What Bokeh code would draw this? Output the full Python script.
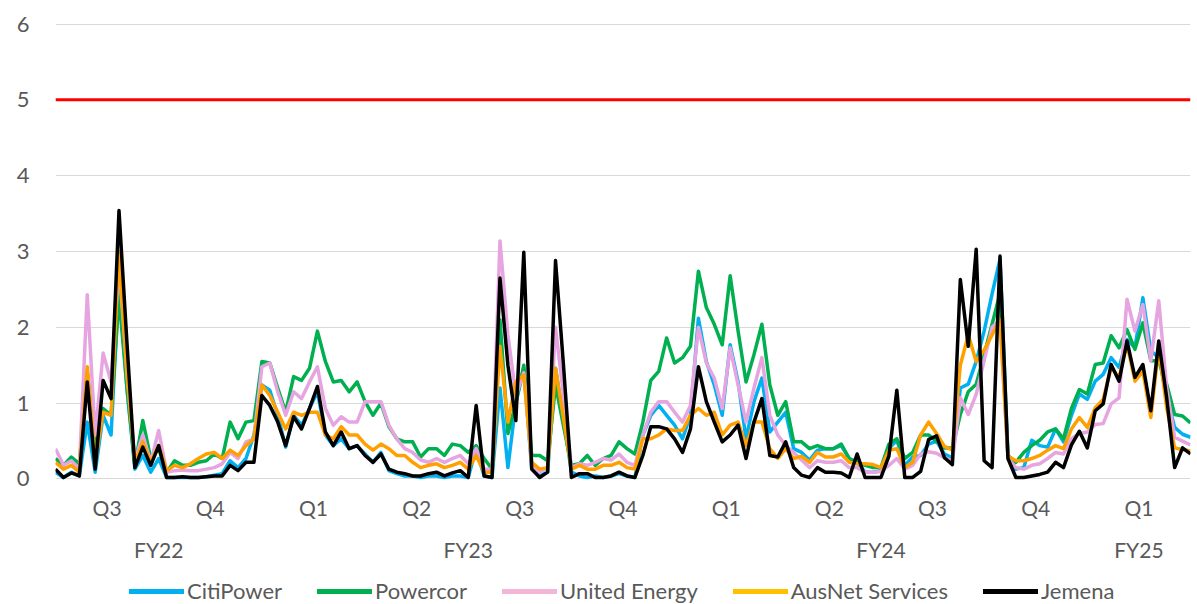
import numpy as np
from bokeh.plotting import figure
from bokeh.layouts import column
from bokeh.models import (Range1d, LinearAxis, FixedTicker, Span, Legend, LegendItem,
                          CustomJSTickFormatter, ColumnDataSource)
from bokeh.embed import file_html
from bokeh.resources import INLINE

# ---------------- data (weekly, Jan 2022 .. Sep 2024) ----------------
weeks = list(range(144))

jemena = [0.13, 0.02, 0.08, 0.04, 1.28, 0.13, 1.30, 1.06, 3.54, 1.80,
          0.15, 0.42, 0.18, 0.44, 0.02, 0.02, 0.03, 0.02, 0.02, 0.03,
          0.04, 0.04, 0.18, 0.11, 0.22, 0.22, 1.10, 0.97, 0.75, 0.44,
          0.82, 0.66, 0.93, 1.22, 0.62, 0.44, 0.62, 0.40, 0.44, 0.31,
          0.22, 0.33, 0.13, 0.09, 0.07, 0.04, 0.04, 0.07, 0.09, 0.04,
          0.08, 0.11, 0.02, 0.97, 0.04, 0.02, 2.65, 1.50, 0.77, 2.99,
          0.13, 0.02, 0.09, 2.88, 1.50, 0.02, 0.07, 0.07, 0.02, 0.02,
          0.04, 0.09, 0.04, 0.02, 0.31, 0.69, 0.69, 0.66, 0.53, 0.35,
          0.66, 1.48, 1.02, 0.75, 0.49, 0.58, 0.71, 0.27, 0.75, 1.06,
          0.31, 0.29, 0.49, 0.15, 0.05, 0.02, 0.15, 0.09, 0.09, 0.08,
          0.02, 0.33, 0.02, 0.02, 0.02, 0.30, 1.17, 0.02, 0.02, 0.10,
          0.52, 0.57, 0.28, 0.19, 2.63, 1.75, 3.03, 0.24, 0.15, 2.94,
          0.27, 0.02, 0.02, 0.04, 0.06, 0.09, 0.22, 0.15, 0.45, 0.63,
          0.41, 0.90, 0.99, 1.51, 1.29, 1.82, 1.34, 1.51, 0.90, 1.82,
          1.07, 0.15, 0.41, 0.33]

powercor = [0.27, 0.18, 0.29, 0.20, 1.42, 0.40, 0.93, 0.84, 2.40, 1.20,
            0.18, 0.77, 0.27, 0.40, 0.09, 0.24, 0.18, 0.18, 0.22, 0.24,
            0.33, 0.27, 0.75, 0.53, 0.75, 0.77, 1.55, 1.53, 1.20, 0.88,
            1.35, 1.30, 1.46, 1.95, 1.55, 1.28, 1.30, 1.15, 1.28, 1.02,
            0.84, 1.00, 0.69, 0.53, 0.49, 0.49, 0.29, 0.40, 0.40, 0.31,
            0.46, 0.44, 0.35, 0.44, 0.27, 0.13, 2.10, 0.60, 1.00, 1.50,
            0.31, 0.31, 0.24, 1.24, 0.70, 0.18, 0.20, 0.31, 0.18, 0.27,
            0.31, 0.49, 0.40, 0.33, 0.75, 1.30, 1.42, 1.86, 1.53, 1.60,
            1.75, 2.74, 2.26, 2.04, 1.77, 2.68, 1.95, 1.28, 1.64, 2.04,
            1.24, 0.84, 1.02, 0.49, 0.49, 0.40, 0.44, 0.40, 0.40, 0.46,
            0.27, 0.22, 0.18, 0.15, 0.15, 0.46, 0.53, 0.27, 0.35, 0.58,
            0.58, 0.50, 0.41, 0.41, 0.85, 1.15, 1.25, 1.64, 2.04, 2.45,
            0.31, 0.22, 0.35, 0.44, 0.51, 0.62, 0.66, 0.53, 0.93, 1.18,
            1.12, 1.51, 1.53, 1.89, 1.73, 1.97, 1.71, 2.06, 1.56, 1.56,
            1.25, 0.85, 0.83, 0.74]

united_energy = [0.40, 0.18, 0.24, 0.13, 2.43, 0.58, 1.66, 1.28, 2.85, 1.40,
                 0.24, 0.58, 0.22, 0.64, 0.09, 0.11, 0.12, 0.11, 0.11, 0.13,
                 0.15, 0.20, 0.35, 0.27, 0.49, 0.53, 1.48, 1.53, 1.15, 0.84,
                 1.15, 1.06, 1.28, 1.48, 0.93, 0.71, 0.82, 0.75, 0.75, 1.02,
                 1.02, 1.02, 0.71, 0.53, 0.40, 0.35, 0.25, 0.22, 0.27, 0.22,
                 0.27, 0.31, 0.20, 0.40, 0.13, 0.13, 3.14, 1.90, 1.10, 1.40,
                 0.18, 0.09, 0.15, 2.00, 1.10, 0.15, 0.20, 0.18, 0.22, 0.27,
                 0.25, 0.33, 0.22, 0.18, 0.58, 0.88, 1.02, 1.02, 0.88, 0.75,
                 0.97, 2.00, 1.53, 1.33, 0.93, 1.73, 1.24, 0.75, 1.20, 1.60,
                 0.84, 0.58, 0.44, 0.35, 0.25, 0.15, 0.24, 0.22, 0.22, 0.24,
                 0.15, 0.15, 0.09, 0.09, 0.10, 0.18, 0.27, 0.13, 0.18, 0.33,
                 0.36, 0.34, 0.28, 0.24, 1.07, 0.85, 1.12, 1.56, 2.00, 2.10,
                 0.27, 0.15, 0.13, 0.18, 0.20, 0.27, 0.35, 0.33, 0.53, 0.60,
                 0.62, 0.72, 0.73, 0.99, 1.07, 2.37, 1.95, 2.30, 1.56, 2.35,
                 1.20, 0.55, 0.50, 0.45]

citipower = [0.09, 0.02, 0.09, 0.04, 0.75, 0.09, 0.84, 0.58, 2.60, 1.20,
             0.13, 0.31, 0.09, 0.27, 0.02, 0.02, 0.02, 0.02, 0.02, 0.03,
             0.05, 0.07, 0.24, 0.15, 0.27, 0.58, 1.24, 1.17, 0.84, 0.42,
             0.84, 0.71, 0.93, 1.15, 0.58, 0.44, 0.53, 0.40, 0.44, 0.33,
             0.22, 0.35, 0.11, 0.07, 0.04, 0.04, 0.02, 0.04, 0.04, 0.02,
             0.04, 0.04, 0.02, 0.40, 0.04, 0.02, 1.20, 0.15, 1.00, 1.46,
             0.13, 0.04, 0.09, 1.46, 0.80, 0.09, 0.04, 0.02, 0.04, 0.02,
             0.04, 0.07, 0.04, 0.02, 0.58, 0.84, 0.97, 0.84, 0.71, 0.53,
             0.84, 2.12, 1.55, 1.24, 0.84, 1.77, 1.28, 0.53, 1.02, 1.33,
             0.62, 0.75, 0.88, 0.40, 0.35, 0.25, 0.38, 0.40, 0.40, 0.44,
             0.27, 0.22, 0.09, 0.09, 0.11, 0.40, 0.51, 0.18, 0.29, 0.31,
             0.46, 0.50, 0.33, 0.28, 1.20, 1.25, 1.55, 1.95, 2.44, 2.90,
             0.31, 0.13, 0.15, 0.51, 0.44, 0.42, 0.66, 0.49, 0.84, 1.12,
             1.05, 1.29, 1.38, 1.60, 1.47, 1.84, 1.73, 2.39, 1.69, 1.60,
             1.10, 0.68, 0.59, 0.55]

ausnet = [0.22, 0.13, 0.18, 0.09, 1.48, 0.22, 0.88, 0.84, 3.00, 1.40,
          0.22, 0.49, 0.22, 0.44, 0.11, 0.18, 0.15, 0.20, 0.27, 0.33,
          0.35, 0.27, 0.38, 0.31, 0.44, 0.53, 1.24, 1.10, 0.88, 0.66,
          0.88, 0.84, 0.88, 0.88, 0.58, 0.53, 0.69, 0.58, 0.58, 0.46,
          0.38, 0.46, 0.40, 0.31, 0.31, 0.22, 0.15, 0.18, 0.20, 0.15,
          0.18, 0.22, 0.13, 0.31, 0.09, 0.09, 1.75, 0.75, 1.28, 1.37,
          0.22, 0.13, 0.15, 1.46, 0.80, 0.13, 0.18, 0.13, 0.13, 0.18,
          0.18, 0.22, 0.15, 0.13, 0.53, 0.53, 0.58, 0.66, 0.64, 0.64,
          0.84, 0.93, 0.84, 0.88, 0.58, 0.71, 0.75, 0.44, 0.75, 0.75,
          0.40, 0.27, 0.40, 0.27, 0.30, 0.22, 0.35, 0.29, 0.29, 0.33,
          0.22, 0.20, 0.20, 0.19, 0.15, 0.38, 0.40, 0.15, 0.22, 0.58,
          0.75, 0.60, 0.43, 0.38, 1.50, 1.90, 1.55, 1.70, 1.90, 2.10,
          0.30, 0.24, 0.24, 0.27, 0.31, 0.38, 0.44, 0.40, 0.66, 0.81,
          0.68, 0.94, 1.05, 1.47, 1.34, 1.78, 1.29, 1.42, 0.81, 1.73,
          0.94, 0.41, 0.39, 0.37]

threshold = 5

series_names = ["CitiPower", "Powercor", "United Energy", "AusNet Services", "Jemena"]
series_values = [citipower, powercor, united_energy, ausnet, jemena]
line_colors = ["#00B0F0", "#00B050", "#E6A5E0", "#FFA000", "#000000"]
legend_colors = ["#00B0F0", "#00B050", "#F4B6D8", "#FFC000", "#000000"]

quarter_ticks = [6.5, 19.5, 32.5, 45.5, 58.5, 71.5, 84.5, 97.5, 110.5, 123.5, 136.5]
quarter_labels = ["Q3", "Q4", "Q1", "Q2", "Q3", "Q4", "Q1", "Q2", "Q3", "Q4", "Q1"]
fy_ticks = [13.0, 52.0, 104.0, 136.5]
fy_labels = ["FY22", "FY23", "FY24", "FY25"]
y_ticks = [0, 1, 2, 3, 4, 5, 6]

FONT = "Lato"
TXT = "#595959"

p = figure(width=1197, height=568, output_backend="svg", toolbar_location=None,
           x_range=Range1d(0, 143), y_range=Range1d(-0.02, 6.02),
           min_border_left=55, min_border_right=7, min_border_top=22, min_border_bottom=88)
p.outline_line_color = None
p.background_fill_color = "white"
p.border_fill_color = "white"
p.xgrid.visible = False
p.ygrid.grid_line_color = "#D9D9D9"
p.ygrid.grid_line_width = 1

# y axis
p.yaxis.ticker = FixedTicker(ticks=y_ticks)
p.yaxis.axis_line_color = None
p.yaxis.major_tick_line_color = None
p.yaxis.minor_tick_line_color = None
p.yaxis.major_label_standoff = 20
p.yaxis.major_label_text_font = FONT
p.yaxis.major_label_text_font_size = "22px"
p.yaxis.major_label_text_color = TXT

def style_x(ax, standoff):
    ax.axis_line_color = None
    ax.major_tick_line_color = None
    ax.minor_tick_line_color = None
    ax.major_label_standoff = standoff
    ax.major_label_text_font = FONT
    ax.major_label_text_font_size = "21px"
    ax.major_label_text_color = TXT

xa = p.xaxis[0]
xa.ticker = FixedTicker(ticks=quarter_ticks)
xa.formatter = CustomJSTickFormatter(args=dict(t=quarter_ticks, l=quarter_labels),
                                     code="const i = t.indexOf(tick); return i >= 0 ? l[i] : '';")
style_x(xa, 8)

fy_axis = LinearAxis(ticker=FixedTicker(ticks=fy_ticks),
                     formatter=CustomJSTickFormatter(args=dict(t=fy_ticks, l=fy_labels),
                                                     code="const i = t.indexOf(tick); return i >= 0 ? l[i] : '';"))
style_x(fy_axis, 8)
p.add_layout(fy_axis, "below")

# threshold line
p.add_layout(Span(location=threshold, dimension="width", line_color="#FF0000", line_width=3))

# series
for name, vals, col in zip(series_names, series_values, line_colors):
    src = ColumnDataSource(dict(x=weeks, y=vals))
    p.line("x", "y", source=src, line_color=col, line_width=3.5, line_join="round")

# legend strip below the chart
lf = figure(width=1197, height=36, output_backend="svg", toolbar_location=None,
            x_range=Range1d(0, 1), y_range=Range1d(0, 1),
            min_border_left=0, min_border_right=0, min_border_top=0, min_border_bottom=0)
lf.axis.visible = False
lf.grid.visible = False
lf.outline_line_color = None
lf.background_fill_color = "white"
lf.border_fill_color = "white"
items = []
for name, col in zip(series_names, legend_colors):
    r = lf.line(x=np.array([np.nan]), y=np.array([np.nan]), line_color=col,
                line_width=5, line_cap="round")
    items.append(LegendItem(label=name, renderers=[r]))
legend = Legend(items=items, orientation="horizontal", location=(74, 0),
                glyph_width=55, glyph_height=20, label_standoff=3, spacing=35,
                label_text_font=FONT, label_text_font_size="22px", label_text_color=TXT,
                border_line_color=None, background_fill_alpha=0, padding=0, margin=0)
lf.add_layout(legend, "center")

layout = column(p, lf, spacing=0)
open("out.html", "w").write(file_html(layout, INLINE))
